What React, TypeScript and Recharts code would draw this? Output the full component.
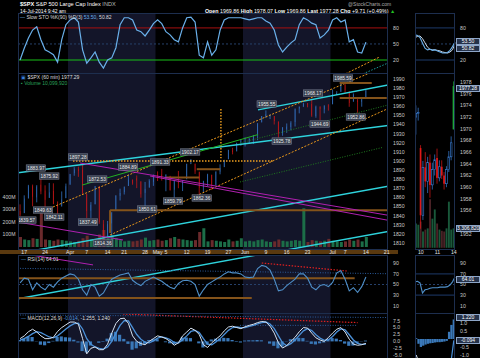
import React from "react";
import {
  Bar,
  Cell,
  ComposedChart,
  Line,
  ReferenceArea,
  ReferenceLine,
  Scatter,
  XAxis,
  YAxis,
} from "recharts";

// trading days Mar 14 – Jul 14 2014, then empty days up to Jul 21
const dates = [
  "03-14", "03-17", "03-18", "03-19", "03-20", "03-21", "03-24", "03-25", "03-26", "03-27", "03-28", "03-31",
  "04-01", "04-02", "04-03", "04-04", "04-07", "04-08", "04-09", "04-10", "04-11", "04-14", "04-15", "04-16",
  "04-17", "04-21", "04-22", "04-23", "04-24", "04-25", "04-28", "04-29", "04-30",
  "05-01", "05-02", "05-05", "05-06", "05-07", "05-08", "05-09", "05-12", "05-13", "05-14", "05-15", "05-16",
  "05-19", "05-20", "05-21", "05-22", "05-23", "05-27", "05-28", "05-29", "05-30",
  "06-02", "06-03", "06-04", "06-05", "06-06", "06-09", "06-10", "06-11", "06-12", "06-13", "06-16", "06-17",
  "06-18", "06-19", "06-20", "06-23", "06-24", "06-25", "06-26", "06-27", "06-30",
  "07-01", "07-02", "07-03", "07-07", "07-08", "07-09", "07-10", "07-11", "07-14",
  "07-15", "07-16", "07-17", "07-18", "07-21",
];

const tickDates = ["03-17", "03-24", "04-01", "04-07", "04-14", "04-21", "04-28", "05-01", "05-05", "05-12",
  "05-19", "05-27", "06-02", "06-09", "06-16", "06-23", "07-01", "07-07", "07-14", "07-21"];
const tickLabels = ["17", "24", "Apr", "7", "14", "21", "28", "May", "5", "12",
  "19", "27", "Jun", "9", "16", "23", "Jul", "7", "14", "21"];

const opens = [
  1845.1, 1842.8, 1858.9, 1872.3, 1860.1, 1874.0, 1867.7, 1859.5, 1867.1, 1852.1,
  1850.1, 1859.2, 1873.96, 1886.6, 1891.4, 1890.3, 1863.9, 1845.5, 1852.6, 1872.3,
  1830.7, 1818.2, 1831.5, 1846.0, 1861.7, 1865.8, 1872.6, 1879.3, 1881.0, 1877.7,
  1865.0, 1870.8, 1877.1, 1884.4, 1885.3, 1879.5, 1883.7, 1868.5, 1877.4, 1875.3,
  1880.0, 1896.8, 1897.1, 1888.2, 1871.2, 1876.7, 1884.9, 1873.3, 1888.2, 1893.3,
  1902.0, 1911.8, 1910.6, 1920.3, 1923.9, 1923.1, 1923.1, 1928.5, 1942.4, 1948.97,
  1950.3, 1949.4, 1943.4, 1930.8, 1934.8, 1937.2, 1942.7, 1957.5, 1960.5, 1962.9,
  1962.6, 1949.3, 1959.9, 1956.6, 1960.8, 1962.3, 1973.1, 1975.9, 1984.2, 1976.4,
  1965.1, 1966.7, 1965.0, 1969.86,
];
const highs = [
  1852.4, 1862.3, 1873.8, 1874.1, 1873.5, 1883.97, 1873.3, 1875.92, 1875.5, 1855.6,
  1866.6, 1875.2, 1885.8, 1893.2, 1893.8, 1897.28, 1864.0, 1854.9, 1872.53, 1872.5,
  1835.1, 1834.2, 1844.0, 1862.3, 1869.6, 1871.9, 1884.89, 1879.8, 1884.1, 1877.7,
  1877.0, 1880.0, 1885.2, 1888.6, 1891.33, 1885.5, 1883.7, 1878.8, 1889.1, 1878.6,
  1897.1, 1902.17, 1897.1, 1888.2, 1878.3, 1886.0, 1884.9, 1888.8, 1896.3, 1901.3,
  1912.3, 1914.5, 1920.0, 1924.0, 1925.9, 1925.1, 1928.6, 1941.7, 1949.4, 1955.55,
  1951.0, 1949.4, 1943.4, 1937.3, 1941.2, 1943.7, 1957.7, 1959.9, 1963.9, 1963.7,
  1968.17, 1960.8, 1959.9, 1961.0, 1962.3, 1978.6, 1976.7, 1985.59, 1984.2, 1976.4,
  1974.2, 1969.8, 1968.7, 1978.07,
];
const lows = [
  1839.57, 1842.8, 1858.9, 1850.3, 1854.6, 1863.5, 1849.7, 1859.5, 1852.6, 1842.11,
  1850.1, 1859.2, 1873.96, 1883.8, 1882.6, 1863.3, 1837.49, 1837.5, 1852.4, 1831.0,
  1814.36, 1815.8, 1816.3, 1846.0, 1856.7, 1863.2, 1872.6, 1873.9, 1870.2, 1859.7,
  1850.61, 1870.8, 1872.7, 1878.0, 1878.5, 1866.8, 1867.7, 1859.79, 1870.1, 1867.0,
  1880.0, 1896.6, 1885.8, 1862.36, 1864.8, 1872.4, 1868.1, 1873.3, 1885.4, 1893.3,
  1902.0, 1907.3, 1910.6, 1916.6, 1915.9, 1918.8, 1918.6, 1922.9, 1942.4, 1947.2,
  1946.0, 1940.1, 1925.78, 1927.7, 1930.9, 1933.6, 1937.9, 1952.3, 1959.2, 1958.9,
  1948.5, 1947.5, 1944.69, 1952.3, 1955.3, 1962.3, 1972.6, 1975.9, 1974.9, 1959.5,
  1965.1, 1952.86, 1959.6, 1969.86,
];
const closes = [
  1841.1, 1858.8, 1872.3, 1860.8, 1872.0, 1866.5, 1857.4, 1865.6, 1852.6, 1849.0,
  1857.6, 1872.3, 1885.5, 1890.9, 1888.8, 1865.1, 1845.0, 1851.96, 1872.2, 1833.1,
  1815.7, 1830.6, 1842.98, 1862.3, 1864.9, 1871.9, 1879.6, 1875.4, 1878.6, 1863.4,
  1869.4, 1878.3, 1883.95, 1883.7, 1881.1, 1884.7, 1867.7, 1878.2, 1875.6, 1878.5,
  1896.7, 1897.45, 1888.5, 1870.85, 1877.86, 1885.1, 1872.8, 1888.0, 1892.5, 1900.5,
  1911.9, 1909.8, 1920.0, 1923.6, 1924.97, 1924.2, 1927.9, 1940.5, 1949.4, 1951.3,
  1950.8, 1943.9, 1930.1, 1936.2, 1937.8, 1942.0, 1957.0, 1959.5, 1962.9, 1962.6,
  1949.98, 1959.5, 1957.2, 1961.0, 1960.2, 1973.3, 1974.6, 1985.4, 1977.7, 1963.7,
  1972.8, 1964.7, 1967.6, 1977.28,
];
// volume, millions
const volumes = [
  80, 60, 55, 70, 65, 270, 60, 55, 50, 60,
  55, 50, 45, 40, 50, 70, 90, 60, 55, 100,
  136, 90, 95, 70, 55, 45, 50, 45, 50, 60,
  75, 50, 55, 60, 50, 55, 70, 80, 65, 60,
  55, 50, 55, 120, 150, 45, 55, 50, 45, 40,
  60, 45, 50, 70, 45, 50, 45, 55, 60, 45,
  40, 45, 60, 50, 45, 50, 55, 50, 310, 40,
  55, 50, 45, 50, 65, 50, 45, 40, 45, 60,
  50, 60, 45, 80,
];
const stoK = [
  20, 42, 61, 76, 82, 58, 39, 35, 30, 16,
  58, 86, 95, 99, 91, 39, 14, 24, 35, 16,
  5, 20, 24, 43, 86, 99, 99, 95, 76, 73,
  65, 76, 88, 95, 88, 73, 67, 58, 54, 80,
  99, 100, 91, 29, 24, 54, 29, 39, 76, 95,
  99, 99, 99, 99, 97, 95, 97, 99, 99, 93,
  89, 76, 48, 35, 44, 52, 58, 86, 99, 95,
  89, 86, 61, 67, 76, 95, 99, 91, 95, 54,
  58, 35, 33, 53.5,
];
const rsi = [
  53, 62, 60, 40, 53, 45, 40, 50, 45, 55,
  62, 66, 70, 68, 60, 40, 30, 50, 45, 28,
  34, 48, 60, 64, 68, 70, 72, 58, 52, 48,
  56, 60, 64, 60, 56, 50, 45, 42, 52, 57,
  58, 56, 50, 28, 40, 50, 55, 60, 64, 70,
  74, 72, 72, 70, 64, 63, 64, 80, 86, 84,
  77, 60, 38, 40, 48, 54, 60, 70, 70, 62,
  45, 40, 48, 50, 46, 54, 72, 76, 60, 38,
  44, 35, 46, 64.01,
];
const macd = [
  1.0, 2.0, 3.5, 4.4, 3.4, 2.0, 1.0, 1.0, 1.5, 3.6,
  5.0, 6.0, 7.0, 7.0, 6.2, 1.0, -4.5, -2.5, -2.0, -3.0,
  -3.0, -1.0, 3.0, 6.5, 8.2, 8.4, 6.5, 2.0, 0.0, -0.8,
  -1.2, 0.0, 1.0, 2.0, 1.6, 1.0, 0.0, -1.4, -0.5, 2.0,
  3.4, 4.8, 4.0, 2.5, -1.2, -2.2, -0.5, 0.8, 2.0, 3.8,
  5.2, 5.5, 5.0, 4.6, 5.3, 5.8, 6.2, 6.8, 7.2, 7.0,
  5.5, 3.0, -0.5, -2.4, -1.5, 0.0, 1.5, 3.5, 5.0, 4.8,
  3.0, 1.3, 0.5, 0.0, 1.4, 3.0, 4.4, 5.0, 3.4, 0.8,
  -1.0, -1.4, -1.2, -0.7,
];
const macdSignal = [
  0.5, 1.0, 1.8, 2.8, 3.5, 3.2, 2.4, 1.6, 1.3, 2.0,
  3.2, 4.5, 5.6, 6.4, 6.6, 4.5, 1.0, -1.0, -2.0, -2.5,
  -2.8, -2.0, 0.0, 3.0, 5.8, 7.5, 7.4, 5.0, 2.5, 0.8,
  -0.3, -0.5, 0.2, 1.2, 1.6, 1.3, 0.7, -0.4, -0.6, 0.6,
  2.0, 3.6, 4.0, 3.2, 1.0, -1.0, -1.2, -0.2, 1.0, 2.5,
  4.0, 5.0, 5.2, 5.0, 5.0, 5.4, 5.8, 6.3, 6.8, 7.0,
  6.3, 4.6, 2.0, -0.5, -1.6, -0.8, 0.5, 2.2, 3.8, 4.6,
  3.9, 2.4, 1.2, 0.4, 0.6, 1.8, 3.4, 4.5, 4.2, 2.4,
  0.5, -0.7, -1.1, -1.0,
];
const macdHist = [
  0.5, 1.0, 1.7, 1.6, -0.1, -1.2, -1.4, -0.6, 0.2, 1.6,
  1.8, 1.5, 1.4, 0.6, -0.4, -3.5, -4.0, -1.5, 0.0, -0.5,
  -0.2, 1.0, 3.0, 3.5, 2.4, 0.9, -0.9, -3.0, -2.5, -1.6,
  -0.9, 0.5, 0.8, 0.8, 0.0, -0.3, -0.7, -1.0, 0.1, 1.4,
  1.4, 1.2, 0.0, -0.7, -2.2, -1.2, 0.7, 1.0, 1.0, 1.3,
  1.2, 0.5, -0.2, -0.4, 0.3, 0.4, 0.4, 0.5, 0.4, 0.0,
  -0.8, -1.6, -2.5, -1.9, 0.1, 0.8, 1.0, 1.3, 1.2, 0.2,
  -0.9, -1.1, -0.7, -0.4, 0.8, 1.2, 1.0, 0.5, -0.8, -1.6,
  -1.5, -0.7, -0.1, 0.3,
];

// labelled swing highs / lows: text, day index and price where the tag sits
const tagText = ["1839.57", "1883.97", "1875.92", "1849.63", "1842.11", "1897.28", "1872.53", "1837.49",
  "1814.36", "1884.89", "1891.33", "1850.61", "1902.17", "1859.79", "1862.36", "1955.55", "1968.17",
  "1925.78", "1944.69", "1985.59", "1952.86"];
const tagIdx = [1.5, 3.8, 7.0, 5.5, 8.2, 13.9, 18.5, 16.3, 19.9, 25.9, 33.6, 30.5, 40.8, 36.7, 43.6,
  59.2, 70.3, 62.8, 71.9, 77.5, 80.6];
const tagPrice = [1835.2, 1892.3, 1883.5, 1846.2, 1838.5, 1904.4, 1880.2, 1833.0, 1810.0, 1893.4,
  1898.9, 1847.3, 1909.9, 1856.1, 1859.4, 1962.6, 1974.6, 1921.9, 1940.6, 1991.1, 1948.3];

// drawn trend lines: [style, idx1, value1, idx2, value2]
const priceTrends: [string, number, number, number, number][] = [
  ["cyan", -4.8, 1884.6, 91.1, 1940.6],
  ["cyan", 57.1, 1956.1, 88.3, 1983.4],
  ["cyan", -4.8, 1795.0, 91.1, 1874.7],
  ["cyan", -4.8, 1745.0, 91.1, 1825.0],
  ["orangeDash", 7.9, 1849.5, 85.6, 1999.9],
  ["orangeDash", 21.6, 1818.8, 91.8, 1964.8],
  ["orangeDot", 48.2, 1957.0, 48.2, 1903.0],
  ["orangeDot", 12.7, 1900.0, 60.7, 1900.0],
  ["brown", 21.6, 1846.0, 91.0, 1846.0],
  ["brown", 21.6, 1846.0, 21.6, 1821.0],
  ["brown", 76.7, 1985.6, 84.4, 1985.6],
  ["brown", 76.7, 1969.2, 88.0, 1969.2],
  ["brown", 42.4, 1891.0, 48.0, 1891.0],
  ["brown", 35.0, 1882.0, 43.0, 1882.0],
  ["magenta", 14.4, 1897.8, 89.4, 1839.6],
  ["magenta", 31.2, 1883.5, 89.4, 1834.0],
  ["magenta", -4.8, 1836.3, 24.7, 1813.3],
  ["green", 14.9, 1873.6, 57.1, 1929.0],
  ["greenDot", 52.8, 1877.0, 87.1, 1915.0],
  ["greenDot", 52.8, 1919.8, 91.1, 1964.8],
];
const stoTrends: [string, number, number, number, number][] = [
  ["orangeDash", 75.1, -17.4, 86.3, 25.7],
  ["tealDash", 79.0, -17.0, 88.3, 14.4],
];
const rsiTrends: [string, number, number, number, number][] = [
  ["cyan", -4.8, 17, 91.1, 155],
  ["magenta", -4.8, 115, 17.5, 87],
  ["redDash", 58, 90.6, 78.4, 75.5],
  ["brown", -0.5, 62, 80.3, 62],
  ["brown", -0.5, 24.5, 55.6, 24.5],
  ["blueDot", -4.8, 81, 91.1, 70],
];
const macdTrends: [string, number, number, number, number][] = [
  ["redDash", 24.7, 9.9, 81, 6.8],
  ["blueDot", 52.8, 5.8, 80.8, 5.8],
  ["blueDot", -4.8, 9.6, 91.1, 8.6],
];

// right-hand zoom panel: last hourly bars (Jul 9 – Jul 14)
const miniDays = ["", "", "10", "", "", "", "", "", "", "11", "", "", "", "", "", "", "14"];
const miniOpen = [1972.0, 1972.6, 1966.7, 1955.2, 1963.4, 1961.0, 1964.2, 1960.4, 1963.0, 1965.0, 1961.6,
  1963.5, 1962.0, 1960.6, 1963.0, 1965.2, 1969.9];
const miniHigh = [1974.0, 1973.6, 1967.2, 1964.5, 1966.0, 1965.2, 1965.6, 1964.2, 1965.6, 1966.6, 1964.6,
  1964.6, 1962.6, 1963.6, 1966.2, 1968.7, 1978.1];
const miniLow = [1969.0, 1971.4, 1952.9, 1954.4, 1960.0, 1959.0, 1958.2, 1959.6, 1962.0, 1960.6, 1961.0,
  1961.4, 1959.6, 1960.0, 1962.6, 1964.6, 1969.9];
const miniClose = [1972.6, 1972.8, 1955.2, 1963.4, 1961.0, 1964.2, 1960.4, 1963.0, 1964.7, 1961.6, 1963.5,
  1962.0, 1960.6, 1963.0, 1965.2, 1967.6, 1977.3];
const miniVol = [100, 95, 108, 67, 75, 80, 200, 120, 158, 100, 75, 70, 67, 80, 190, 75, 80];
const miniStoK = [67, 66, 62, 52, 42, 39, 40, 38, 39, 37, 35, 33, 33, 34, 38, 45, 53.5];
const miniStoD = [62, 64, 65, 60, 52, 44, 40, 39, 39, 38, 37, 35, 34, 33, 35, 39, 50.8];
const miniRsi = [55, 56, 53, 34, 40, 41, 43, 44, 44, 44, 45, 45, 45, 46, 49, 55, 64];
const miniHist = [0.05, -0.3, -0.5, -0.42, -0.35, -0.3, -0.27, -0.25, -0.22, -0.2, -0.2, -0.18, -0.16,
  -0.12, 0.45, 0.88, 1.22];
const miniMacd = [-2.6, -2.8, -3.2, -3.3, -3.3, -3.2, -3.1, -3.0, -2.9, -2.8, -2.7, -2.6, -2.5, -2.3,
  -1.8, -1.2, -0.09];
const miniSignal = [-1.0, -1.4, -2.0, -2.5, -2.8, -3.0, -3.0, -3.0, -2.9, -2.9, -2.8, -2.8, -2.7, -2.6,
  -2.4, -2.0, -1.31];

const FONT = "'Liberation Sans', Arial, sans-serif";
const X_DOMAIN: [number, number] = [-0.5, 88.3];
const UP = "#3a7fd8";
const DOWN = "#e01818";
const SHADE = "#131529";
const FRAME = "#1d2e4e";
const TICK = { fill: "#c8c8c8", fontSize: 5.2, fontFamily: FONT };

const lineStyle: Record<string, any> = {
  cyan: { stroke: "#2ed3dc", strokeWidth: 1.4 },
  orangeDash: { stroke: "#e8961a", strokeWidth: 1, strokeDasharray: "2 1.5" },
  orangeDot: { stroke: "#f0a020", strokeWidth: 1.4, strokeDasharray: "1.5 1.5" },
  brown: { stroke: "#84531a", strokeWidth: 2 },
  magenta: { stroke: "#b020b0", strokeWidth: 1 },
  green: { stroke: "#22b022", strokeWidth: 1 },
  greenDot: { stroke: "#1f7a1f", strokeWidth: 1, strokeDasharray: "1 1.5" },
  redDash: { stroke: "#e02020", strokeWidth: 1.2, strokeDasharray: "1.5 1.5" },
  blueDot: { stroke: "#2a5a9a", strokeWidth: 1, strokeDasharray: "1 1.5" },
  tealDash: { stroke: "#1a9a9a", strokeWidth: 1, strokeDasharray: "1.5 1.5" },
};

const tickIdx = tickDates.map((d) => dates.indexOf(d));

const rows = dates.map((d, i) => ({
  i,
  date: d,
  o: opens[i] ?? null,
  h: highs[i] ?? null,
  l: lows[i] ?? null,
  c: closes[i] ?? null,
  range: i < closes.length ? [lows[i], highs[i]] : null,
  vol: volumes[i] ?? null,
  sto: stoK[i] ?? null,
  rsi: rsi[i] ?? null,
  macd: macd[i] ?? null,
  sig: macdSignal[i] ?? null,
  hist: macdHist[i] ?? null,
}));

const tags = tagText.map((t, k) => ({ i: tagIdx[k], p: tagPrice[k], text: t }));

const miniRows = miniDays.map((day, k) => ({
  k,
  day,
  o: miniOpen[k],
  h: miniHigh[k],
  l: miniLow[k],
  c: miniClose[k],
  range: [miniLow[k], miniHigh[k]],
  vol: miniVol[k],
  stoK: miniStoK[k],
  stoD: miniStoD[k],
  rsi: miniRsi[k],
  hist: miniHist[k],
  macd: miniMacd[k],
  sig: miniSignal[k],
  cur: k === miniDays.length - 1,
}));

const makeCandle = (hollowUp: boolean) => (props: any) => {
  const { x, y, width, height, payload } = props;
  if (!payload || payload.c == null || x == null) return null;
  const { o, c, h, l } = payload;
  const top = Math.min(y, y + height);
  const hgt = Math.abs(height);
  const k = h === l ? 0 : hgt / (h - l);
  const yo = top + (h - o) * k;
  const yc = top + (h - c) * k;
  const up = c >= o;
  const col = payload.cur ? "#1fa83a" : up ? UP : DOWN;
  const cx = x + width / 2;
  const bTop = Math.min(yo, yc);
  const bH = Math.max(0.8, Math.abs(yc - yo));
  return (
    <g>
      <line x1={cx} x2={cx} y1={top} y2={top + hgt} stroke={col} strokeWidth={0.7} />
      {hollowUp && up && !payload.cur ? (
        <rect x={x} y={bTop} width={width} height={bH} fill="#000" stroke={col} strokeWidth={0.6} />
      ) : (
        <rect x={x} y={bTop} width={width} height={bH} fill={col} />
      )}
    </g>
  );
};

const PriceTag = (props: any) => {
  const { cx, cy, payload } = props;
  if (cx == null || cy == null) return null;
  const w = 19.5;
  const h = 6.4;
  return (
    <g>
      <rect x={cx - w / 2} y={cy - h / 2} width={w} height={h} fill="#394150" stroke="#80889a" strokeWidth={0.5} />
      <text x={cx} y={cy + 1.9} textAnchor="middle" fontSize={4.8} fill="#e8e8e8" fontFamily={FONT}>
        {payload.text}
      </text>
    </g>
  );
};

const trendLines = (list: [string, number, number, number, number][], yAxisId?: string) =>
  list.map(([kind, x1, y1, x2, y2], k) => (
    <ReferenceLine
      key={`t${k}`}
      {...(yAxisId ? { yAxisId } : {})}
      segment={[{ x: x1, y: y1 }, { x: x2, y: y2 }]}
      ifOverflow="hidden"
      {...lineStyle[kind]}
    />
  ));

const shading = (yAxisId?: string) =>
  [
    [11.5, 32.5],
    [53.5, 74.5],
  ].map(([a, b], k) => (
    <ReferenceArea key={`s${k}`} {...(yAxisId ? { yAxisId } : {})} x1={a} x2={b} fill={SHADE} fillOpacity={1} ifOverflow="hidden" />
  ));

const abs = (left: number, top: number, extra: any = {}) => ({ position: "absolute" as const, left, top, ...extra });

const ValueBox = ({ top, text }: { top: number; text: string }) => (
  <div
    style={abs(456, top, {
      width: 22,
      height: 5.4,
      background: "#25324a",
      border: "0.6px solid #8ea6c8",
      color: "#fff",
      fontSize: 5,
      lineHeight: "5.6px",
      textAlign: "center",
      whiteSpace: "nowrap",
    })}
  >
    {text}
  </div>
);

const Frame = ({ left, top, width, height }: any) => (
  <div style={abs(left, top, { width, height, border: `0.8px solid ${FRAME}`, boxSizing: "border-box" })} />
);

export default function App() {
  const rightAxis = {
    orientation: "right" as const,
    width: 27,
    tick: TICK,
    tickLine: false,
    axisLine: false,
    tickSize: 3,
    tickMargin: 2,
    allowDataOverflow: true,
    interval: 0 as const,
  };
  const miniAxis = { ...rightAxis, width: 25 };
  const hiddenX = <XAxis dataKey="i" type="number" domain={X_DOMAIN} allowDataOverflow hide />;
  const miniX = <XAxis dataKey="k" type="category" hide />;

  return (
    <div style={{ position: "fixed", left: 0, top: 0, width: 480, height: 358, background: "#000", overflow: "hidden", fontFamily: FONT }}>
      <div style={abs(0, 250, { width: 398, height: 4, background: "#5a390f" })} />

      {/* header */}
      <div style={abs(20, 1, { color: "#fff", fontSize: 5.6, whiteSpace: "nowrap" })}>
        <b>$SPX</b> S&amp;P 500 Large Cap Index <span style={{ color: "#bbb" }}>INDX</span>
      </div>
      <div style={abs(20, 8, { color: "#fff", fontSize: 5, whiteSpace: "nowrap" })}>14-Jul-2014 9:42 am</div>
      <div style={abs(205, 8, { color: "#fff", fontSize: 5.3, whiteSpace: "nowrap" })}>
        <b>Open</b> 1969.86 <b>High</b> 1978.07 <b>Low</b> 1969.86 <b>Last</b> 1977.28 <b>Chg</b> +9.71 (+0.49%){" "}
        <span style={{ color: "#22c022" }}>▲</span>
      </div>
      <div style={abs(348, 1, { color: "#aaa", fontSize: 5, whiteSpace: "nowrap" })}>@StockCharts.com</div>

      {/* slow stochastic */}
      <div style={abs(0, 13)}>
        <ComposedChart width={415} height={60} data={rows} margin={{ top: 0, right: 0, bottom: 0, left: 18 }}>
          {hiddenX}
          <YAxis {...rightAxis} domain={[-4.3, 107.9]} ticks={[20, 50, 80]} />
          {shading()}
          <ReferenceLine y={50} stroke="#26406a" strokeDasharray="2 2" />
          <ReferenceLine y={80} stroke="#a81010" strokeWidth={1} />
          <ReferenceLine y={20} stroke="#18c018" strokeWidth={1} />
          {trendLines(stoTrends)}
          <Line dataKey="sto" stroke="#6ab0ea" strokeWidth={1.2} dot={false} isAnimationActive={false} />
        </ComposedChart>
      </div>

      {/* price + volume */}
      <div style={abs(0, 73)}>
        <ComposedChart width={415} height={183} data={rows} margin={{ top: 0, right: 0, bottom: 0, left: 0 }}>
          <XAxis
            dataKey="i"
            type="number"
            domain={X_DOMAIN}
            allowDataOverflow
            ticks={tickIdx}
            interval={0}
            tickFormatter={(v: number) => tickLabels[tickIdx.indexOf(v)] ?? ""}
            tickLine={false}
            axisLine={false}
            height={7}
            tickSize={0}
            tickMargin={1}
            tick={{ ...TICK, fill: "#e0e0e0" }}
          />
          <XAxis xAxisId="v" dataKey="i" type="number" domain={X_DOMAIN} allowDataOverflow hide />
          <YAxis
            yAxisId="vol"
            orientation="left"
            width={18}
            domain={[-16, 1392]}
            ticks={[100, 200, 300, 400]}
            tickFormatter={(v: number) => `${v}M`}
            tick={TICK}
            tickLine={false}
            axisLine={false}
            tickSize={0}
            tickMargin={2.5}
            allowDataOverflow
          />
          <YAxis
            {...rightAxis}
            yAxisId="p"
            domain={[1803.4, 1996.6]}
            ticks={[1810, 1820, 1830, 1840, 1850, 1860, 1870, 1880, 1890, 1900, 1910, 1920, 1930, 1940, 1950, 1960, 1970, 1980, 1990]}
          />
          {shading("p")}
          <Bar xAxisId="v" yAxisId="vol" dataKey="vol" barSize={3} isAnimationActive={false}>
            {rows.map((r, k) => (
              <Cell key={k} fill={r.c != null && r.o != null && r.c < r.o ? "#6a2a2c" : "#1c6e48"} />
            ))}
          </Bar>
          {trendLines(priceTrends, "p")}
          <Bar yAxisId="p" dataKey="range" barSize={2.8} shape={makeCandle(false)} isAnimationActive={false} />
          <Scatter yAxisId="p" data={tags} dataKey="p" shape={PriceTag} isAnimationActive={false} />
        </ComposedChart>
      </div>

      {/* RSI */}
      <div style={abs(0, 255)}>
        <ComposedChart width={415} height={58} data={rows} margin={{ top: 0, right: 0, bottom: 0, left: 18 }}>
          {hiddenX}
          <YAxis {...rightAxis} domain={[-3.8, 105.7]} ticks={[10, 30, 50, 70, 90]} />
          {shading()}
          <ReferenceLine y={50} stroke="#26406a" strokeDasharray="2 2" />
          {trendLines(rsiTrends)}
          <Line dataKey="rsi" stroke="#4f8fc8" strokeWidth={1.1} dot={false} isAnimationActive={false} />
        </ComposedChart>
      </div>

      {/* MACD */}
      <div style={abs(0, 313)}>
        <ComposedChart width={415} height={45} data={rows} margin={{ top: 0, right: 0, bottom: 0, left: 18 }}>
          {hiddenX}
          <YAxis
            {...rightAxis}
            domain={[-6.0, 10.27]}
            ticks={[-5, -2.5, 0, 2.5, 5, 7.5]}
            tickFormatter={(v: number) => v.toFixed(1)}
          />
          {shading()}
          <Bar dataKey="hist" barSize={3.2} fill="#3a78b8" isAnimationActive={false} />
          {trendLines(macdTrends)}
          <Line dataKey="sig" stroke="#4a90d8" strokeWidth={1.3} dot={false} isAnimationActive={false} />
          <Line dataKey="macd" stroke="#d6e2f0" strokeWidth={1} dot={false} isAnimationActive={false} />
        </ComposedChart>
      </div>

      {/* zoom panels on the right */}
      <div style={abs(415, 13)}>
        <ComposedChart width={65} height={60} data={miniRows} margin={{ top: 0, right: 0, bottom: 0, left: 0 }}>
          {miniX}
          <YAxis {...miniAxis} domain={[-4.3, 107.9]} ticks={[20, 80]} />
          <ReferenceLine y={50} stroke="#26406a" strokeDasharray="2 2" />
          <ReferenceLine y={20} stroke="#1d3a6a" />
          <ReferenceLine y={80} stroke="#1d3a6a" />
          <Line dataKey="stoD" stroke="#c8d4e2" strokeWidth={1} dot={false} isAnimationActive={false} />
          <Line dataKey="stoK" stroke="#6ab0ea" strokeWidth={1.1} dot={false} isAnimationActive={false} />
        </ComposedChart>
      </div>
      <div style={abs(415, 73)}>
        <ComposedChart width={65} height={183} data={miniRows} margin={{ top: 0, right: 0, bottom: 0, left: 0 }}>
          <XAxis
            dataKey="day"
            type="category"
            interval={0}
            tickLine={false}
            axisLine={false}
            height={7}
            tickSize={0}
            tickMargin={1}
            tick={{ ...TICK, fill: "#e0e0e0" }}
          />
          <XAxis xAxisId="v" dataKey="k" type="category" hide />
          <YAxis yAxisId="mv" hide domain={[-5, 720]} allowDataOverflow />
          <YAxis
            {...miniAxis}
            yAxisId="p"
            domain={[1949.43, 1979.54]}
            ticks={[1952, 1956, 1958, 1960, 1962, 1964, 1966, 1968, 1970, 1972, 1974, 1976, 1978]}
          />
          <Bar xAxisId="v" yAxisId="mv" dataKey="vol" barSize={1.9} isAnimationActive={false}>
            {miniRows.map((r, k) => (
              <Cell key={k} fill={r.c < r.o ? "#4a2226" : "#19583a"} />
            ))}
          </Bar>
          <Bar yAxisId="p" dataKey="range" barSize={1.7} shape={makeCandle(true)} isAnimationActive={false} />
        </ComposedChart>
      </div>
      <div style={abs(415, 255)}>
        <ComposedChart width={65} height={58} data={miniRows} margin={{ top: 0, right: 0, bottom: 0, left: 0 }}>
          {miniX}
          <YAxis {...miniAxis} domain={[-3.8, 105.7]} ticks={[10, 30, 50, 70, 90]} />
          <ReferenceLine y={50} stroke="#26406a" strokeDasharray="2 2" />
          <ReferenceLine y={70} stroke="#1d3a6a" />
          <ReferenceLine y={30} stroke="#1d3a6a" />
          <Line dataKey="rsi" stroke="#4f8fc8" strokeWidth={1.1} dot={false} isAnimationActive={false} />
        </ComposedChart>
      </div>
      <div style={abs(415, 313)}>
        <ComposedChart width={65} height={45} data={miniRows} margin={{ top: 0, right: 0, bottom: 0, left: 0 }}>
          {miniX}
          <YAxis
            {...miniAxis}
            domain={[-1.19, 1.625]}
            ticks={[-1, -0.5, 0.5, 1]}
            tickFormatter={(v: number) => v.toFixed(1)}
          />
          <Bar dataKey="hist" barSize={2.3} fill="#3a78b8" isAnimationActive={false} />
          <Line dataKey="sig" stroke="#d6e2f0" strokeWidth={1} dot={false} isAnimationActive={false} />
          <Line dataKey="macd" stroke="#4a90d8" strokeWidth={1.2} dot={false} isAnimationActive={false} />
        </ComposedChart>
      </div>

      {/* panel frames */}
      <Frame left={18} top={13} width={370} height={61} />
      <Frame left={18} top={73} width={370} height={177} />
      <Frame left={18} top={255} width={370} height={59} />
      <Frame left={18} top={313} width={370} height={50} />
      <Frame left={415} top={13} width={40} height={61} />
      <Frame left={415} top={73} width={40} height={177} />
      <Frame left={415} top={255} width={40} height={59} />
      <Frame left={415} top={313} width={40} height={50} />

      {/* panel legends */}
      <div style={abs(20, 14, { color: "#ddd", fontSize: 5, whiteSpace: "nowrap" })}>
        <span style={{ color: "#6ab0ea" }}>—</span> Slow STO %K(90) %D(3) <span style={{ color: "#6ab0ea" }}>53.50</span>, 50.82
      </div>
      <div style={abs(21, 74, { color: "#ddd", fontSize: 5, whiteSpace: "nowrap" })}>
        <span style={{ color: UP }}>▣</span> $SPX (60 min) 1977.29
      </div>
      <div style={abs(21, 80, { color: "#2aa05a", fontSize: 5, whiteSpace: "nowrap" })}>▪ Volume 10,099,920</div>
      <div style={abs(21, 256, { color: "#ddd", fontSize: 5, whiteSpace: "nowrap" })}>
        <span style={{ color: "#4f8fc8" }}>—</span> RSI(14) 64.01
      </div>
      <div style={abs(21, 314.5, { color: "#ddd", fontSize: 5, whiteSpace: "nowrap" })}>
        <span style={{ color: "#4a90d8" }}>—</span> MACD(12,26,9) <span style={{ color: "#4a90d8" }}>-0.014</span>, -1.255, 1.240
      </div>

      {/* current-value boxes */}
      <ValueBox top={38} text="53.50" />
      <ValueBox top={44.6} text="50.82" />
      <ValueBox top={85} text="1977.28" />
      <ValueBox top={225} text="3,306,820" />
      <ValueBox top={275.6} text="64.01" />
      <ValueBox top={313.5} text="1.220" />
      <ValueBox top={336.5} text="-0.094" />
    </div>
  );
}
